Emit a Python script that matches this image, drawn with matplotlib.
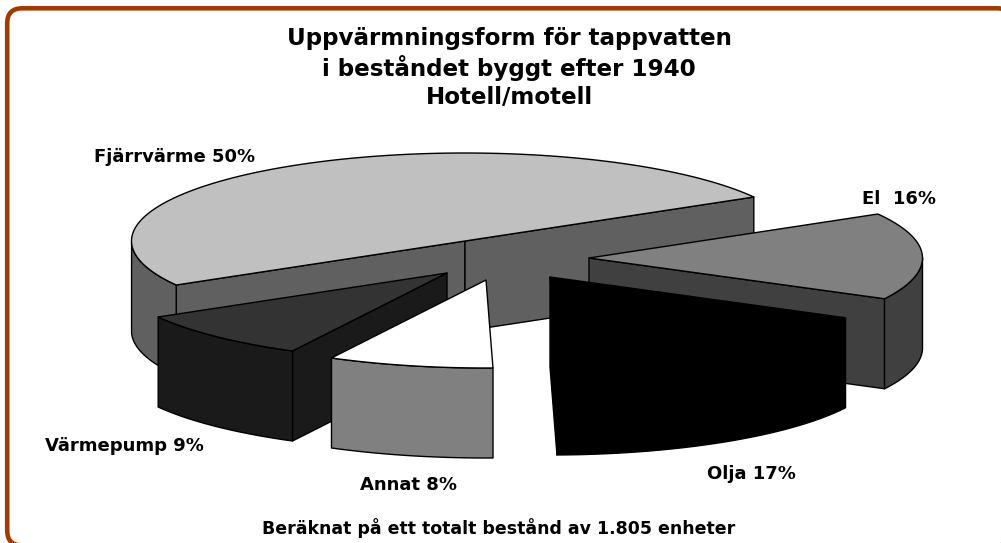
import numpy as np
import matplotlib
matplotlib.use("Agg")
import matplotlib.pyplot as plt
from matplotlib.patches import Polygon, FancyBboxPatch

# --- data ---
categories = ["Fjärrvärme", "Värmepump", "Annat", "Olja", "El"]
values = [50, 9, 8, 17, 16]
label_text = ["Fjärrvärme 50%", "Värmepump 9%", "Annat 8%", "Olja 17%", "El  16%"]
title_lines = "Uppvärmningsform för tappvatten\ni beståndet byggt efter 1940\nHotell/motell"
footer = "Beräknat på ett totalt bestånd av 1.805 enheter"

# --- style ---
top_colors = ["#C0C0C0", "#333333", "#FFFFFF", "#000000", "#808080"]
side_colors = ["#606060", "#1A1A1A", "#808080", "#000000", "#404040"]
explode = [(0, 0), (-18, 32), (21, 39), (85, 36), (124, 17)]
label_pos = [(174.5, 157), (124.5, 446), (408.5, 485), (751, 474), (899, 199)]
draw_order = [0, 4, 1, 2, 3]

CX, CY, RX, RY, DEPTH = 465, 241, 333.5, 88, 90
START = 30.0

fig = plt.figure(figsize=(10.01, 5.43), dpi=100, facecolor="white")
ax = fig.add_axes([0, 0, 1, 1])
ax.set_xlim(0, 1001)
ax.set_ylim(543, 0)
ax.axis("off")

ax.add_patch(FancyBboxPatch((7.2, 8.3), 1005, 537.2, boxstyle="round,pad=0,rounding_size=15",
                            fc="white", ec="#A03C00", lw=3.3, zorder=0))

angles = START + np.concatenate([[0], np.cumsum(values)]) * 3.6


def pt(t, ox, oy, dz=0.0):
    r = np.radians(t)
    return CX + ox + RX * np.cos(r), CY + oy - RY * np.sin(r) + dz


def add_poly(xy, color, z):
    ax.add_patch(Polygon(xy, closed=True, fc=color, ec="#000000", lw=1.0,
                         joinstyle="round", zorder=z))


z = 1
for i in draw_order:
    t0, t1 = angles[i], angles[i + 1]
    ox, oy = explode[i]
    apex = (CX + ox, CY + oy)
    apex_low = (CX + ox, CY + oy + DEPTH)
    top = top_colors[i]
    side = side_colors[i]
    ts = np.linspace(t0, t1, 120)
    # radial walls that face the viewer
    if np.cos(np.radians(t1)) < 0:
        add_poly([apex, pt(t1, ox, oy), pt(t1, ox, oy, DEPTH), apex_low], side, z)
        z += 1
    if np.cos(np.radians(t0)) > 0:
        add_poly([apex, pt(t0, ox, oy), pt(t0, ox, oy, DEPTH), apex_low], side, z)
        z += 1
    # outer rim (front half only)
    vis = ts[np.sin(np.radians(ts)) <= 0]
    if len(vis) > 1:
        up = [pt(t, ox, oy) for t in vis]
        low = [pt(t, ox, oy, DEPTH) for t in vis[::-1]]
        add_poly(up + low, side, z)
        z += 1
    # top face
    add_poly([apex] + [pt(t, ox, oy) for t in ts], top, z)
    z += 1

for txt, (x, y) in zip(label_text, label_pos):
    ax.text(x, y, txt, ha="center", va="center", fontsize=13.0,
            fontweight="bold", family="DejaVu Sans", color="black", zorder=50)

ax.text(509, 68, title_lines, ha="center", va="center", fontsize=16.6, fontweight="bold",
        family="DejaVu Sans", linespacing=1.26, color="black", zorder=50)
ax.text(499, 528, footer, ha="center", va="center", fontsize=12.5, fontweight="bold",
        family="DejaVu Sans", color="black", zorder=50)

fig.savefig("out.png", dpi=100)
